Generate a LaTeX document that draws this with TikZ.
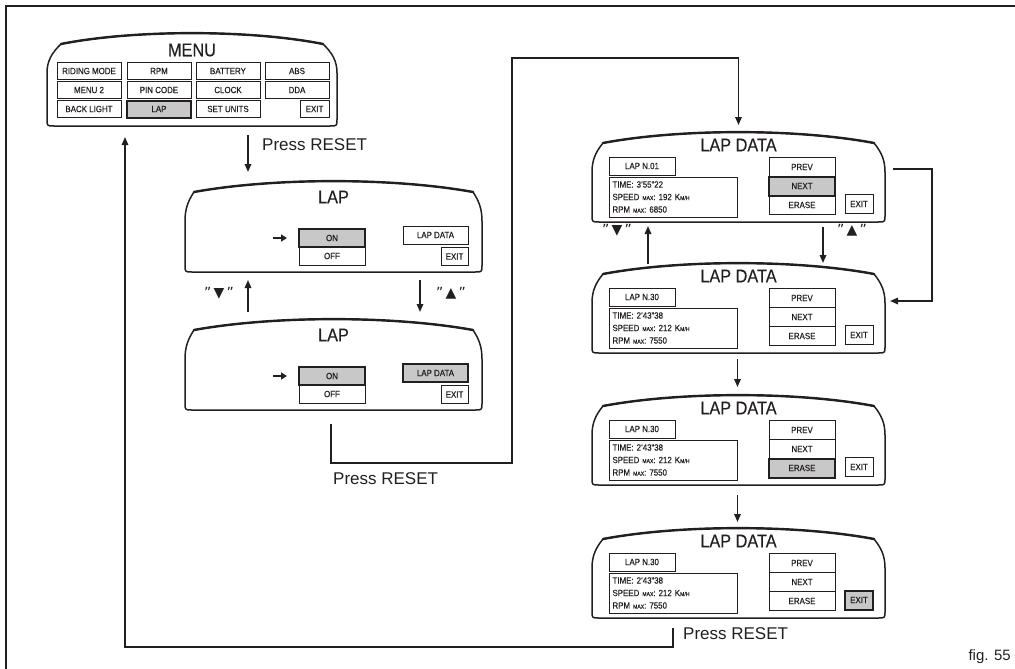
\documentclass[tikz,border=0pt]{standalone}
\usepackage{fontspec}
\setmainfont{Liberation Sans}
\newfontfamily\condsans[FakeStretch=0.88, FakeBold=0.4]{Liberation Sans}
\newfontfamily\symfont{DejaVu Sans}
\usetikzlibrary{arrows.meta, calc, fit}
\definecolor{ink}{HTML}{231F20}
\definecolor{selgray}{HTML}{C8C8C8}
\newcommand\smallunit[1]{{\fontsize{5.8}{6}\selectfont #1}}
% bezel outline round a screen node: #1 = inset of the top corners
\newcommand\screenframe[2][10]{%
  \draw[bezel] ($(#2.north west)+(#1,11)$)
    .. controls ($(#2.north west)!0.3!(#2.north east)+(0,-3.5)$) and ($(#2.north west)!0.7!(#2.north east)+(0,-3.5)$) .. ($(#2.north east)+(-#1,11)$)
    .. controls ($(#2.north east)+(-#1/3,20)$) and ($(#2.north east)+(0,28)$) .. ($(#2.north east)+(0,40)$)
    -- ($(#2.south east)+(0,-7)$) .. controls (#2.south east) .. ($(#2.south east)+(-7,0)$)
    -- ($(#2.south west)+(7,0)$) .. controls (#2.south west) .. ($(#2.south west)+(0,-7)$)
    -- ($(#2.north west)+(0,40)$)
    .. controls ($(#2.north west)+(0,28)$) and ($(#2.north west)+(#1/3,20)$) .. ($(#2.north west)+(#1,11)$);
  \draw[bezelarc] ($(#2.north west)+(#1,11)$)
    .. controls ($(#2.north west)!0.3!(#2.north east)+(0,-3.5)$) and ($(#2.north west)!0.7!(#2.north east)+(0,-3.5)$) .. ($(#2.north east)+(-#1,11)$);
}

\begin{document}
\begin{tikzpicture}[x=1pt, y=-1pt,
    screen/.style={inner sep=0pt, outer sep=0pt},
    bezel/.style={draw=ink, line width=1.5pt, line join=round},
    bezelarc/.style={draw=ink, line width=2.4pt, line cap=round},
    title/.style={font=\condsans\fontsize{18.5}{18.5}\selectfont, text=ink, inner sep=0pt},
    btn/.style={draw=ink, line width=0.9pt, minimum width=64pt, minimum height=17pt,
      inner sep=0pt, text=ink, font=\condsans\fontsize{9}{9}\selectfont},
    lbtn/.style={btn, minimum width=66pt, minimum height=18pt},
    dbtn/.style={btn, minimum width=66pt, minimum height=19pt},
    exitbtn/.style={btn, minimum width=28pt, minimum height=18pt},
    sel/.style={fill=selgray, line width=2pt},
    info/.style={draw=ink, line width=0.9pt, minimum width=128pt, minimum height=40pt,
      text width=121pt, inner sep=3.5pt, align=left, text=ink,
      font=\condsans\fontsize{9}{12.5}\selectfont},
    conn/.style={draw=ink, line width=1.6pt, -{Triangle[length=8pt, width=6.5pt]}},
    pointer/.style={draw=ink, line width=1.8pt, -{Triangle[length=6pt, width=7pt]}},
    reset/.style={font=\fontsize{17}{17}\selectfont, text=ink, inner sep=0pt, anchor=west},
    keylabel/.style={font=\symfont\fontsize{14}{14}\selectfont, text=ink, inner sep=0pt}
  ]
  \useasboundingbox (0,0) rectangle (1015,669);
  \draw[ink, line width=1.2pt] (6,669) -- (6,6) -- (1015,6);

  % main menu
  \node[screen, fit={(47,33) (337,126)}] (menu) {};
  \screenframe[14]{menu}
  \node[title] (menutitle) at ($(menu.north)+(0,17)$) {MENU};
  \node[btn] (riding) at (89,71) {RIDING MODE};
  \node[btn] (rpm) at (159,71) {RPM};
  \node[btn] (battery) at (228,71) {BATTERY};
  \node[btn] (abs) at (297,71) {ABS};
  \node[btn] (menutwo) at (89,90) {MENU 2};
  \node[btn] (pincode) at (159,90) {PIN CODE};
  \node[btn] (clock) at (228,90) {CLOCK};
  \node[btn] (dda) at (297,90) {DDA};
  \node[btn] (backlight) at (89,109) {BACK LIGHT};
  \node[btn, sel] (lapitem) at (159,109) {LAP};
  \node[btn] (setunits) at (228,109) {SET UNITS};
  \node[btn, minimum width=29pt] (menuexit) at (314.5,109) {EXIT};

  % LAP screens
  \node[screen, fit={(185,181) (482,272)}] (lap1) {};
  \screenframe[9]{lap1}
  \node[title] (lap1title) at ($(lap1.north)+(0,16)$) {LAP};
  \node[lbtn, sel] (on1) at (332,238) {ON};
  \node[lbtn] (off1) at (332,256) {OFF};
  \node[btn, minimum width=65pt, minimum height=18pt] (lapdata1) at (435.5,235) {LAP DATA};
  \node[exitbtn, minimum width=27pt] (exit1) at (454.5,256.5) {EXIT};
  \draw[pointer] ($(on1.west)+(-25,0)$) -- ($(on1.west)+(-11,0)$);

  \node[screen, fit={(185,319) (482,410)}] (lap2) {};
  \screenframe[9]{lap2}
  \node[title] (lap2title) at ($(lap2.north)+(0,16)$) {LAP};
  \node[lbtn, sel] (on2) at (332,376) {ON};
  \node[lbtn] (off2) at (332,394) {OFF};
  \node[btn, sel, minimum width=65pt, minimum height=18pt] (lapdata2) at (435.5,373) {LAP DATA};
  \node[exitbtn, minimum width=27pt] (exit2) at (454.5,394.5) {EXIT};
  \draw[pointer] ($(on2.west)+(-25,0)$) -- ($(on2.west)+(-11,0)$);

  % LAP DATA screens
  \node[screen, fit={(592,132) (885,222)}] (data1) {};
  \screenframe[11]{data1}
  \node[title] (data1title) at ($(data1.north)+(0,13)$) {LAP DATA};
  \node[lbtn] (lapno1) at (642,166) {LAP N.01};
  \node[info] (info1) at (673,197) {TIME: 3’55”22\\SPEED \smallunit{MAX}: 192 K\smallunit{M/H}\\RPM \smallunit{MAX}: 6850};
  \node[dbtn] (prev1) at (802,167) {PREV};
  \node[dbtn, sel] (next1) at (802,186) {NEXT};
  \node[dbtn] (erase1) at (802,205) {ERASE};
  \node[exitbtn, minimum height=19pt] (dexit1) at (859,204) {EXIT};

  \node[screen, fit={(592,263) (885,353)}] (data2) {};
  \screenframe[11]{data2}
  \node[title] (data2title) at ($(data2.north)+(0,13)$) {LAP DATA};
  \node[lbtn] (lapno2) at (642,297) {LAP N.30};
  \node[info] (info2) at (673,328) {TIME: 2’43”38\\SPEED \smallunit{MAX}: 212 K\smallunit{M/H}\\RPM \smallunit{MAX}: 7550};
  \node[dbtn] (prev2) at (802,298) {PREV};
  \node[dbtn] (next2) at (802,317) {NEXT};
  \node[dbtn] (erase2) at (802,336) {ERASE};
  \node[exitbtn, minimum height=19pt] (dexit2) at (859,335) {EXIT};

  \node[screen, fit={(592,395) (885,485)}] (data3) {};
  \screenframe[11]{data3}
  \node[title] (data3title) at ($(data3.north)+(0,13)$) {LAP DATA};
  \node[lbtn] (lapno3) at (642,429) {LAP N.30};
  \node[info] (info3) at (673,460) {TIME: 2’43”38\\SPEED \smallunit{MAX}: 212 K\smallunit{M/H}\\RPM \smallunit{MAX}: 7550};
  \node[dbtn] (prev3) at (802,430) {PREV};
  \node[dbtn] (next3) at (802,449) {NEXT};
  \node[dbtn, sel] (erase3) at (802,468) {ERASE};
  \node[exitbtn, minimum height=19pt] (dexit3) at (859,467) {EXIT};

  \node[screen, fit={(592,528) (885,618)}] (data4) {};
  \screenframe[11]{data4}
  \node[title] (data4title) at ($(data4.north)+(0,13)$) {LAP DATA};
  \node[lbtn] (lapno4) at (642,562) {LAP N.30};
  \node[info] (info4) at (673,593) {TIME: 2’43”38\\SPEED \smallunit{MAX}: 212 K\smallunit{M/H}\\RPM \smallunit{MAX}: 7550};
  \node[dbtn] (prev4) at (802,563) {PREV};
  \node[dbtn] (next4) at (802,582) {NEXT};
  \node[dbtn] (erase4) at (802,601) {ERASE};
  \node[exitbtn, sel, minimum height=19pt] (dexit4) at (859,600) {EXIT};

  % connectors
  \draw[conn] ($(menu.south)+(56,9)$) -- ($(lap1.north)+(-85.5,-9)$);
  \node[reset] (reset1) at (262,145) {Press RESET};

  \draw[conn] ($(lap1.south)+(86.5,8)$) -- ($(lap2.north)+(86.5,-7)$);
  \draw[conn] ($(lap2.north)+(-85.5,-7)$) -- ($(lap1.south)+(-85.5,8)$);
  \node[keylabel] (lapdown) at (219,293) {”\,▼\,”};
  \node[keylabel] (lapup) at (451,293) {”\,▲\,”};

  \coordinate (jogA) at (512,463);
  \coordinate (jogB) at (512,58);
  \draw[conn] ($(lap2.south)+(-2.5,14)$) |- (jogA) -- (jogB) -| ($(data1.north)+(0,-7)$);
  \node[reset] (reset2) at (333,479) {Press RESET};

  \draw[conn] ($(data1.south)+(84.5,5)$) -- ($(data2.north)+(84.5,0)$);
  \draw[conn] ($(data2.north)+(-90.5,1)$) -- ($(data1.south)+(-90.5,4)$);
  \node[keylabel] (datadown) at (617,230) {”\,▼\,”};
  \node[keylabel] (dataup) at (852,230) {”\,▲\,”};
  \draw[conn] ($(data1.east)+(8,-8)$) -- ++(39,0) |- ($(data2.east)+(5,-7)$);

  \draw[conn] ($(data2.south)+(-1,6)$) -- ($(data3.north)+(-1,-8)$);
  \draw[conn] ($(data3.south)+(-1,10)$) -- ($(data4.north)+(-1,-6)$);

  \coordinate (back) at (125,647);
  \draw[conn] ($(data4.south)+(-65.5,10)$) |- (back) -- ($(menu.south)+(-67,11)$);
  \node[reset] (reset3) at (683,634) {Press RESET};

  \node[font=\fontsize{15}{15}\selectfont, text=ink, inner sep=0pt, anchor=east] (fignum) at (1011,657) {fig. 55};
\end{tikzpicture}
\end{document}
